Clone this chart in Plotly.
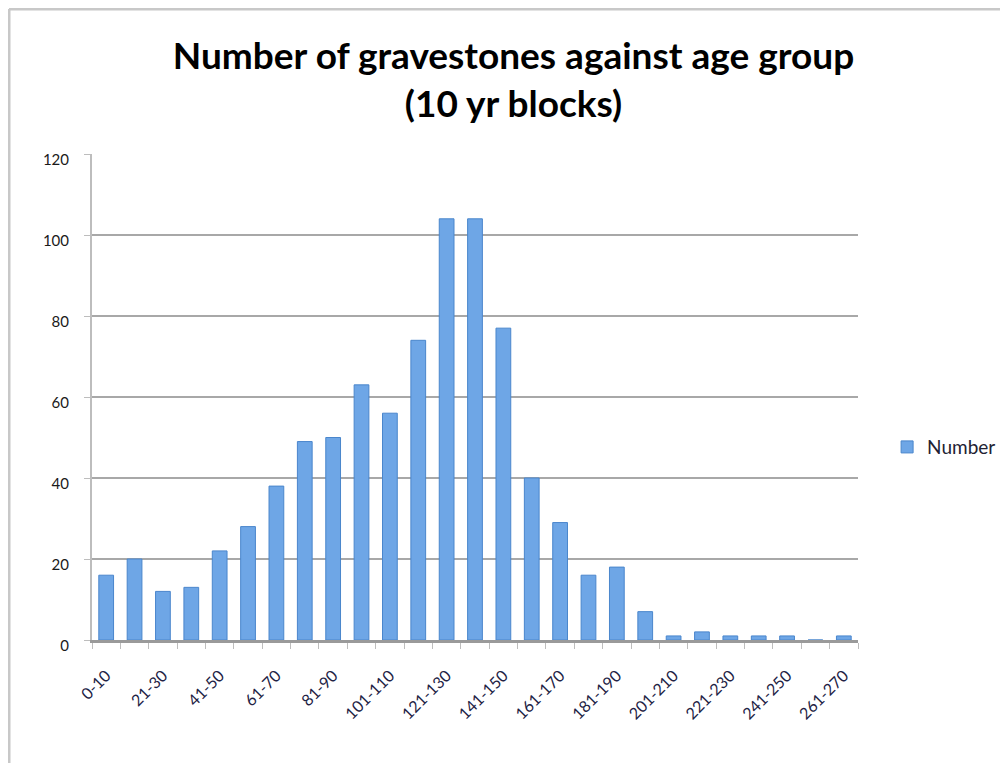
import plotly.graph_objects as go

categories = ["0-10", "11-20", "21-30", "31-40", "41-50", "51-60", "61-70", "71-80",
              "81-90", "91-100", "101-110", "111-120", "121-130", "131-140", "141-150",
              "151-160", "161-170", "171-180", "181-190", "191-200", "201-210", "211-220",
              "221-230", "231-240", "241-250", "251-260", "261-270"]
counts = [16, 20, 12, 13, 22, 28, 38, 49, 50, 63, 56, 74, 104, 104, 77,
          40, 29, 16, 18, 7, 1, 2, 1, 1, 1, 0, 1]
y_ticks = [0, 20, 40, 60, 80, 100, 120]
x_ticktext = [c if i % 2 == 0 else "" for i, c in enumerate(categories)]

L, R, T, B = 84, 158, 146, 131
W, H = 1008, 763
pw, ph = W - L - R, H - T - B

fig = go.Figure()
fig.add_trace(go.Bar(
    x=categories, y=counts, name="Number",
    marker=dict(color="#6ea6e6", line=dict(color="#4a86cc", width=1)),
    width=0.52,
))

fig.update_layout(
    width=W, height=H,
    margin=dict(l=L, r=R, t=T, b=B),
    paper_bgcolor="white", plot_bgcolor="white",
    title=dict(text="<b>Number of gravestones against age group<br>(10 yr blocks)</b>",
               x=0.5015, xanchor="center", y=0.920, yanchor="middle",
               font=dict(family="Lato", size=37, color="black")),
    font=dict(family="Lato", size=14, color="#222222"),
    showlegend=True,
    legend=dict(x=1.038, y=0.397, xanchor="left", yanchor="middle",
                font=dict(family="Lato", size=19, color="#222233"),
                itemwidth=30, bgcolor="rgba(0,0,0,0)"),
)
fig.update_yaxes(range=[0, 120], tickvals=y_ticks, showgrid=True, gridcolor="#a8a8a8",
                 gridwidth=1.5, showline=True, linecolor="#bdbdbd", linewidth=2,
                 ticks="outside", tickcolor="#bdbdbd", ticklen=6, ticklabelstandoff=12,
                 ticklabelshift=6,
                 tickfont=dict(family="Lato", size=15, color="#1a1a1a"), zeroline=False)
fig.update_xaxes(tickmode="array", tickvals=categories, ticktext=x_ticktext,
                 tickson="boundaries", tickangle=-45,
                 showline=True, linecolor="#9a9a9a", linewidth=3,
                 ticks="outside", tickcolor="#bdbdbd", ticklen=6, ticklabelstandoff=17,
                 tickfont=dict(family="Lato", size=16, color="#222244"))

# chart border (top and left edges)
fig.add_shape(type="line", xref="paper", yref="paper",
              x0=-(L - 1) / pw, x1=-(L - 1) / pw, y0=-2, y1=(H - B - 1) / ph,
              line=dict(color="#c8c8c8", width=3))
fig.add_shape(type="line", xref="paper", yref="paper",
              x0=-(L - 1) / pw, x1=1.5, y0=(H - B - 1) / ph, y1=(H - B - 1) / ph,
              line=dict(color="#c8c8c8", width=3))

fig.write_html("out.html")
